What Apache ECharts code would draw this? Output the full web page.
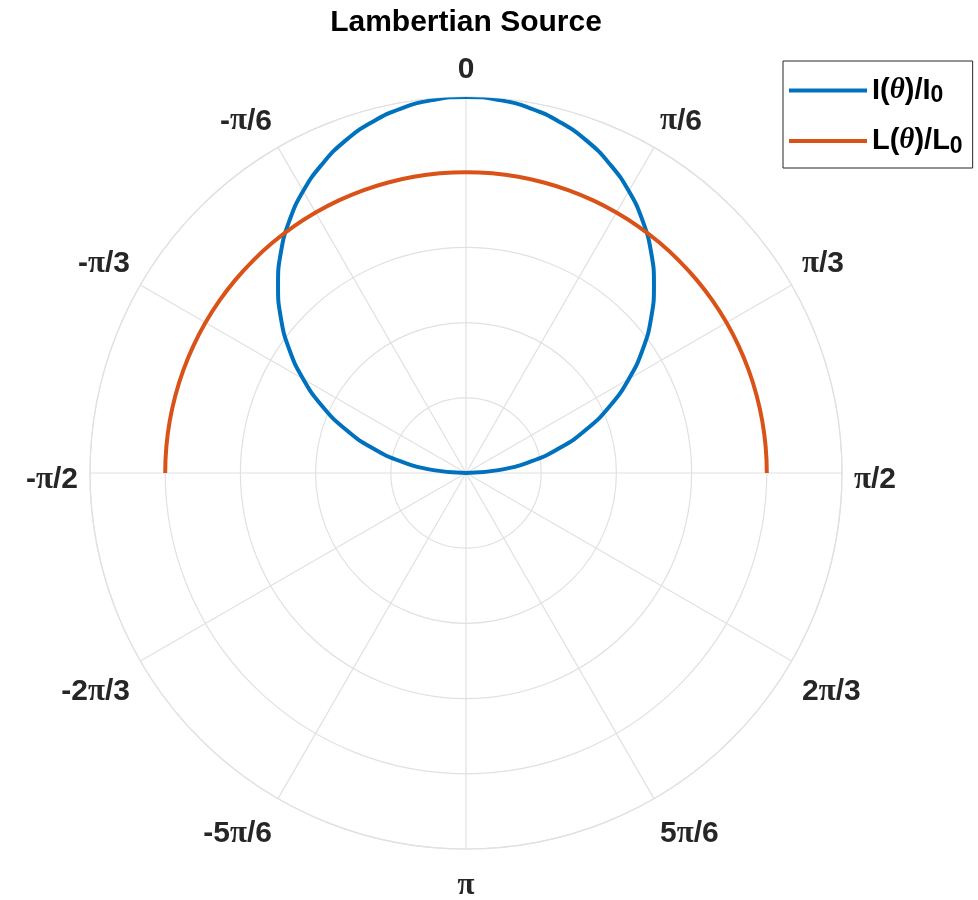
<!DOCTYPE html>
<html>
<head>
<meta charset="utf-8">
<title>Lambertian Source</title>
<script src="https://cdn.jsdelivr.net/npm/echarts@6/dist/echarts.min.js"></script>
<style>
  html, body { margin: 0; padding: 0; background: #ffffff; }
  #chart { width: 978px; height: 900px; }
</style>
</head>
<body>
<div id="chart"></div>
<script>
// Emission angle (degrees), measured from the surface normal
const thetaDeg = [
  -90, -85, -80, -75, -70, -65, -60, -55, -50, -45, -40, -35, -30, -25, -20, -15, -10, -5,
  0, 5, 10, 15, 20, 25, 30, 35, 40, 45, 50, 55, 60, 65, 70, 75, 80, 85, 90
];

// Normalised radiant intensity I(theta)/I0
const intensity = [
  0.000, 0.087, 0.174, 0.259, 0.342, 0.423, 0.500, 0.574, 0.643, 0.707, 0.766, 0.819, 0.866, 0.906, 0.940, 0.966, 0.985, 0.996,
  1.000, 0.996, 0.985, 0.966, 0.940, 0.906, 0.866, 0.819, 0.766, 0.707, 0.643, 0.574, 0.500, 0.423, 0.342, 0.259, 0.174, 0.087, 0.000
];

// Normalised radiance L(theta)/L0
const radiance = [
  0.8, 0.8, 0.8, 0.8, 0.8, 0.8, 0.8, 0.8, 0.8, 0.8, 0.8, 0.8, 0.8, 0.8, 0.8, 0.8, 0.8, 0.8,
  0.8, 0.8, 0.8, 0.8, 0.8, 0.8, 0.8, 0.8, 0.8, 0.8, 0.8, 0.8, 0.8, 0.8, 0.8, 0.8, 0.8, 0.8, 0.8
];

// Angular tick values (degrees) and their labels
const angleTicks = [-180, -150, -120, -90, -60, -30, 0, 30, 60, 90, 120, 150, 180];
const angleTickLabels = ['π', '-5π/6', '-2π/3', '-π/2', '-π/3', '-π/6', '0', 'π/6', 'π/3', 'π/2', '2π/3', '5π/6', ''];

const seriesNames = ['I(θ)/I0', 'L(θ)/L0'];
const seriesColors = ['#0072BD', '#D95319'];

const FONT = 'Liberation Sans, Arial, sans-serif';
const GRID = '#e1e1e1';

function toPairs(rs) {
  return rs.map((r, i) => [r, thetaDeg[i]]);
}

// Angle label: π gets its own rich fragment; labels on the sides and in the
// lower half use a style with extra top padding so they sit a little lower.
function angleLabel(v) {
  const deg = Math.round(v);
  const idx = angleTicks.indexOf(deg);
  const txt = idx >= 0 ? angleTickLabels[idx] : '';
  if (!txt) return '';
  const a = Math.abs(deg);
  const sfx = a === 90 ? 'm' : (a > 90 ? 'b' : '');
  return txt.split('π')
    .map(s => s ? '{n' + sfx + '|' + s + '}' : '')
    .join('{p' + sfx + '|π}');
}

const numStyle = { fontFamily: FONT, fontWeight: 'bold', fontSize: 30, color: '#262626' };
const piStyle = { fontFamily: 'Liberation Serif, serif', fontWeight: 'bold', fontSize: 31, color: '#262626' };
const angleRich = {
  n: numStyle,
  p: piStyle,
  nm: Object.assign({}, numStyle, { padding: [14, 0, 0, 0] }),
  pm: Object.assign({}, piStyle, { padding: [14, 0, 0, 0] }),
  nb: Object.assign({}, numStyle, { padding: [9, 0, 0, 0] }),
  pb: Object.assign({}, piStyle, { padding: [9, 0, 0, 0] })
};

const legendRich = {
  n: { fontFamily: FONT, fontWeight: 'bold', fontSize: 29, color: '#000', lineHeight: 34, verticalAlign: 'middle' },
  t: { fontFamily: 'Liberation Serif, serif', fontStyle: 'italic', fontWeight: 'bold', fontSize: 29, color: '#000', lineHeight: 34, verticalAlign: 'middle' },
  s: { fontFamily: FONT, fontWeight: 'bold', fontSize: 23, color: '#000', lineHeight: 16, verticalAlign: 'bottom' }
};

function legendLabel(name) {
  // "I(θ)/I0" -> I ( θ ) / I subscript 0
  const letter = name.charAt(0);
  return '{n|' + letter + '(}{t|θ}{n|)/' + letter + '}{s|0}';
}

const chart = echarts.init(document.getElementById('chart'), null, { renderer: 'canvas' });

chart.setOption({
  animation: false,
  backgroundColor: '#ffffff',
  title: {
    text: 'Lambertian Source',
    left: 466,
    top: 8,
    padding: 0,
    textAlign: 'center',
    textStyle: { fontFamily: FONT, fontWeight: 'bold', fontSize: 30, color: '#000' }
  },
  legend: {
    orient: 'vertical',
    left: 783,
    top: 61,
    padding: [15, 10, 10, 6],
    itemGap: 19,
    itemWidth: 78,
    itemHeight: 4,
    icon: 'rect',
    borderColor: '#262626',
    borderWidth: 1,
    backgroundColor: '#ffffff',
    data: seriesNames,
    formatter: legendLabel,
    textStyle: { rich: legendRich }
  },
  polar: {
    center: [466, 473],
    radius: 376
  },
  angleAxis: {
    type: 'value',
    min: -180,
    max: 180,
    interval: 30,
    startAngle: -90,
    clockwise: true,
    axisLine: { show: true, lineStyle: { color: GRID, width: 1.2 } },
    axisTick: { show: false },
    splitLine: { show: true, lineStyle: { color: GRID, width: 1.2 } },
    axisLabel: {
      margin: 12,
      formatter: angleLabel,
      rich: angleRich
    }
  },
  radiusAxis: {
    type: 'value',
    min: 0,
    max: 1,
    interval: 0.2,
    axisLine: { show: false },
    axisTick: { show: false },
    axisLabel: { show: false },
    splitLine: { show: true, lineStyle: { color: GRID, width: 1.2 } }
  },
  series: [
    {
      name: seriesNames[0],
      type: 'line',
      coordinateSystem: 'polar',
      data: toPairs(intensity),
      showSymbol: false,
      symbol: 'none',
      smooth: true,
      color: seriesColors[0],
      lineStyle: { color: seriesColors[0], width: 4 },
      z: 3
    },
    {
      name: seriesNames[1],
      type: 'line',
      coordinateSystem: 'polar',
      data: toPairs(radiance),
      showSymbol: false,
      symbol: 'none',
      smooth: true,
      color: seriesColors[1],
      lineStyle: { color: seriesColors[1], width: 4 },
      z: 4
    }
  ]
});
</script>
</body>
</html>
